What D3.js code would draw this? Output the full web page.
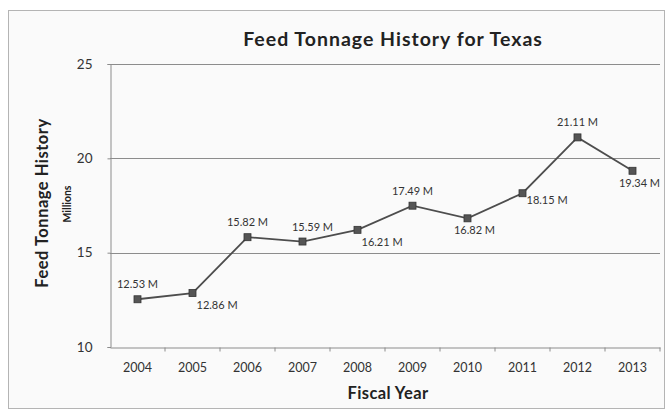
<!DOCTYPE html>
<html>
<head>
<meta charset="utf-8">
<script src="https://cdn.jsdelivr.net/npm/d3@7"></script>
<style>
  html, body { margin: 0; padding: 0; background: #fff; }
  svg { display: block; font-family: Lato, "Open Sans", sans-serif; }
</style>
</head>
<body>
<svg id="chart" width="668" height="412"></svg>
<script>
// data
const years = ["2004", "2005", "2006", "2007", "2008", "2009", "2010", "2011", "2012", "2013"];
const tonnage = [12.53, 12.86, 15.82, 15.59, 16.21, 17.49, 16.82, 18.15, 21.11, 19.34];
const labelSide = ["above", "belowRight", "above", "aboveRight", "belowRight",
                   "above", "below", "right", "above", "below"];
const yTicks = [10, 15, 20, 25];

const width = 668, height = 412;
const margin = { top: 64, right: 8, bottom: 65, left: 110 };

const svg = d3.select("#chart");

// outer chart frame
svg.append("rect")
  .attr("x", 8.5).attr("y", 10.5)
  .attr("width", width - 12).attr("height", height - 14)
  .attr("fill", "#fafafa")
  .attr("stroke", "#b4b4b4");

const x = d3.scaleBand()
  .domain(years)
  .range([margin.left, width - margin.right]);

const y = d3.scaleLinear()
  .domain([10, 25])
  .range([height - margin.bottom, margin.top]);

// horizontal gridlines
svg.append("g")
  .selectAll("line")
  .data(yTicks.slice(1))
  .enter()
  .append("line")
  .attr("x1", margin.left).attr("x2", width - margin.right)
  .attr("y1", (d) => Math.round(y(d)) + 0.5)
  .attr("y2", (d) => Math.round(y(d)) + 0.5)
  .attr("stroke", "#8c8c8c")
  .attr("stroke-width", 1);

// y axis
const yAxis = svg.append("g")
  .attr("transform", `translate(${margin.left + 0.5},0)`)
  .call(d3.axisLeft(y).tickValues(yTicks).tickSize(3).tickPadding(15));
yAxis.select(".domain").attr("stroke", "#8c8c8c");
yAxis.selectAll(".tick line").attr("stroke", "#8c8c8c");
yAxis.selectAll("text").attr("font-size", 13.5).attr("fill", "#333")
  .attr("font-family", "Lato, sans-serif");

// x axis, ticks sit on the band boundaries
const xAxis = svg.append("g")
  .attr("transform", `translate(0,${Math.round(y(10)) + 0.5})`)
  .call(d3.axisBottom(x).tickSize(0).tickPadding(16));
xAxis.select(".domain").attr("stroke", "#8c8c8c");
xAxis.selectAll("text").attr("font-size", 12.5).attr("fill", "#333")
  .attr("font-family", "Lato, sans-serif");
xAxis.selectAll(".boundary")
  .data(years.slice(1).concat(["end"]))
  .enter()
  .append("line")
  .attr("x1", (d, i) => x(years[0]) + x.step() * (i + 1))
  .attr("x2", (d, i) => x(years[0]) + x.step() * (i + 1))
  .attr("y1", 0).attr("y2", 4)
  .attr("stroke", "#8c8c8c");

const cx = (i) => x(years[i]) + x.bandwidth() / 2;

// series line
const line = d3.line()
  .x((d, i) => cx(i))
  .y((d) => y(d));

svg.append("path")
  .datum(tonnage)
  .attr("fill", "none")
  .attr("stroke", "#4d4d4d")
  .attr("stroke-width", 1.8)
  .attr("d", line);

// square markers
svg.append("g")
  .selectAll("rect")
  .data(tonnage)
  .enter()
  .append("rect")
  .attr("x", (d, i) => cx(i) - 3.5)
  .attr("y", (d) => y(d) - 3.5)
  .attr("width", 7).attr("height", 7)
  .attr("fill", "#555")
  .attr("stroke", "#333")
  .attr("stroke-width", 0.8);

// data labels
const placement = {
  above: { dx: 0, dy: -11, anchor: "middle" },
  aboveRight: { dx: 10, dy: -11, anchor: "middle" },
  below: { dx: 7, dy: 16, anchor: "middle" },
  belowRight: { dx: 4, dy: 16, anchor: "start" },
  right: { dx: 4, dy: 11, anchor: "start" },
};

svg.append("g")
  .selectAll("text")
  .data(tonnage)
  .enter()
  .append("text")
  .attr("x", (d, i) => cx(i) + placement[labelSide[i]].dx)
  .attr("y", (d, i) => y(d) + placement[labelSide[i]].dy)
  .attr("text-anchor", (d, i) => placement[labelSide[i]].anchor)
  .attr("font-size", 11)
  .attr("fill", "#333")
  .text((d) => `${d.toFixed(2)} M`);

// titles
svg.append("text")
  .attr("x", 393).attr("y", 46)
  .attr("text-anchor", "middle")
  .attr("font-size", 19.5)
  .attr("font-weight", "bold")
  .attr("letter-spacing", 1)
  .attr("fill", "#222")
  .text("Feed Tonnage History for Texas");

svg.append("text")
  .attr("x", 388).attr("y", 399)
  .attr("text-anchor", "middle")
  .attr("font-size", 16.5)
  .attr("font-weight", "bold")
  .attr("letter-spacing", 0.4)
  .attr("fill", "#222")
  .text("Fiscal Year");

svg.append("text")
  .attr("transform", "translate(48,203) rotate(-90)")
  .attr("text-anchor", "middle")
  .attr("font-size", 16.5)
  .attr("font-weight", "bold")
  .attr("letter-spacing", 0.5)
  .attr("fill", "#222")
  .text("Feed Tonnage History");

svg.append("text")
  .attr("transform", "translate(71,204) rotate(-90)")
  .attr("text-anchor", "middle")
  .attr("font-size", 10.5)
  .attr("font-weight", "bold")
  .attr("fill", "#222")
  .text("Millions");
</script>
</body>
</html>
